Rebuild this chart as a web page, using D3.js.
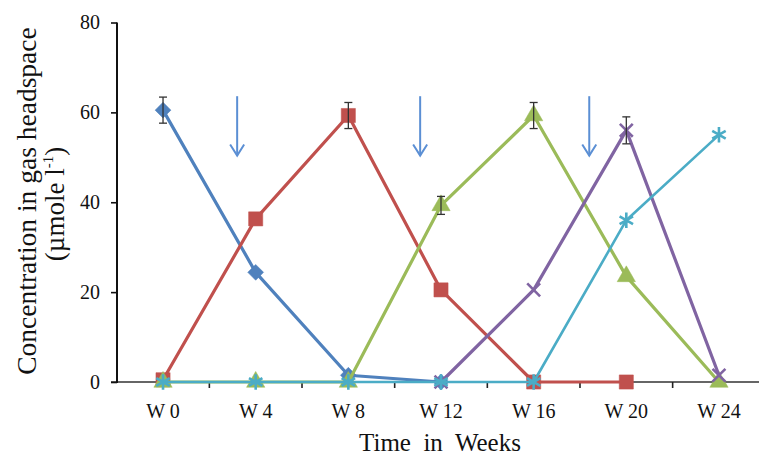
<!DOCTYPE html>
<html>
<head>
<meta charset="utf-8">
<script src="https://cdn.jsdelivr.net/npm/d3@7"></script>
<style>
  body { margin: 0; background: #fff; }
  svg { display: block; font-family: "Liberation Serif", "Times New Roman", serif; }
</style>
</head>
<body>
<div id="chart"></div>
<script>
const weeks = ["W 0", "W 4", "W 8", "W 12", "W 16", "W 20", "W 24"];
const blueVals   = [60.5, 24.4, 1.5, 0, null, null, null];
const redVals    = [0.5, 36.3, 59.3, 20.5, 0, 0, null];
const greenVals  = [0, 0, 0, 39.3, 59.3, 23.5, 0];
const purpleVals = [null, null, null, 0, 20.5, 56, 1.5];
const cyanVals   = [0, 0, 0, 0, 0, 36, 55];
const blueErr   = [2.9, 0, 0, 0, 0, 0, 0];
const redErr    = [0, 0, 2.9, 0, 0, 0, 0];
const greenErr  = [0, 0, 0, 2, 2.9, 0, 0];
const purpleErr = [0, 0, 0, 0, 0, 3, 0];
const yTicks = [0, 20, 40, 60, 80];
// weeks at which the arrows point down
const arrowWeeks = [3.2, 11.1, 18.4];

const width = 759, height = 457;
const margin = { left: 117, top: 22.5, bottom: 75 };

const svg = d3.select("#chart")
    .append("svg")
    .attr("width", width)
    .attr("height", height);

const xScale = d3.scaleBand().domain(weeks).range([116.7, 765.3]).padding(0);
const xWeek = d3.scaleLinear().domain([0, 24])
    .range([xScale("W 0") + xScale.bandwidth() / 2, xScale("W 24") + xScale.bandwidth() / 2]);
const yScale = d3.scaleLinear().domain([0, 80]).range([382, 22.5]);
const cx = w => xScale(w) + xScale.bandwidth() / 2;

// x axis
svg.append("line")
    .attr("x1", 111).attr("x2", width)
    .attr("y1", yScale(0)).attr("y2", yScale(0))
    .attr("stroke", "#333").attr("stroke-width", 1.6);

const bounds = weeks.slice(1).map(w => xScale(w));
svg.selectAll(".xtick")
    .data(bounds)
    .join("line")
    .attr("x1", d => d).attr("x2", d => d)
    .attr("y1", yScale(0)).attr("y2", yScale(0) + 6)
    .attr("stroke", "#222").attr("stroke-width", 1.6);

svg.selectAll(".xlab")
    .data(weeks)
    .join("text")
    .attr("x", d => cx(d))
    .attr("y", 418)
    .attr("text-anchor", "middle")
    .attr("font-size", 20)
    .attr("fill", "#111")
    .text(d => d);

// y axis
const leftAxis = d3.axisLeft(yScale).tickValues(yTicks).tickSize(6).tickSizeOuter(0).tickPadding(11);
const yAxisG = svg.append("g")
    .attr("transform", `translate(${margin.left},0)`)
    .call(leftAxis);
yAxisG.select(".domain").attr("stroke", "#111").attr("stroke-width", 2)
    .attr("d", `M0,${yScale(80)}V${yScale(0) + 1}`);
yAxisG.selectAll(".tick line").attr("stroke", "#111").attr("stroke-width", 1.6);
yAxisG.selectAll(".tick text")
    .attr("font-size", 20)
    .attr("font-family", "Liberation Serif, Times New Roman, serif")
    .attr("fill", "#111");

// axis titles
svg.append("text")
    .attr("transform", "translate(36,201) rotate(-90)")
    .attr("text-anchor", "middle")
    .attr("font-size", 27.5)
    .attr("fill", "#111")
    .text("Concentration in gas headspace");

const sub = svg.append("text")
    .attr("transform", "translate(64,204) rotate(-90)")
    .attr("text-anchor", "middle")
    .attr("font-size", 27)
    .attr("fill", "#111");
sub.append("tspan").text("(µmole l");
sub.append("tspan").attr("font-size", 15).attr("dy", -11).text("-1");
sub.append("tspan").attr("dy", 11).text(")");

svg.append("text")
    .attr("x", 440)
    .attr("y", 451)
    .attr("text-anchor", "middle")
    .attr("font-size", 25)
    .attr("fill", "#111")
    .attr("xml:space", "preserve")
    .style("white-space", "pre")
    .text("Time  in  Weeks");

// arrows
const arrowColor = "#5b8fd4";
arrowWeeks.forEach(w => {
    const x = xWeek(w);
    const y0 = yScale(63.6), y1 = yScale(50.4);
    svg.append("line")
        .attr("x1", x).attr("x2", x).attr("y1", y0).attr("y2", y1)
        .attr("stroke", arrowColor).attr("stroke-width", 2);
    svg.append("path")
        .attr("d", `M${x - 7},${y1 - 11}L${x},${y1}L${x + 7},${y1 - 11}`)
        .attr("fill", "none").attr("stroke", arrowColor).attr("stroke-width", 2);
});

// series
const series = [
    { name: "blue",   color: "#4F81BD", vals: blueVals,   err: blueErr,   symbol: "diamond" },
    { name: "red",    color: "#C0504D", vals: redVals,    err: redErr,    symbol: "square" },
    { name: "green",  color: "#9BBB59", vals: greenVals,  err: greenErr,  symbol: "triangle" },
    { name: "purple", color: "#8064A2", vals: purpleVals, err: purpleErr, symbol: "x" },
    { name: "cyan",   color: "#4BACC6", vals: cyanVals,   err: null,      symbol: "asterisk" }
];

const line = d3.line()
    .defined(d => d.v !== null)
    .x(d => cx(d.w))
    .y(d => yScale(d.v));

const symbols = {
    diamond:  { type: d3.symbolSquare,   size: 125, fill: true,  rotate: 45 },
    square:   { type: d3.symbolSquare,   size: 200, fill: true,  rotate: 0 },
    triangle: { type: d3.symbolTriangle, size: 145, fill: true,  rotate: 0 },
    x:        { type: d3.symbolX,        size: 110, fill: false, rotate: 0 },
    asterisk: { type: d3.symbolAsterisk, size: 170, fill: false, rotate: 0 }
};

series.forEach(s => {
    const pts = weeks.map((w, i) => ({ w: w, v: s.vals[i], e: s.err ? s.err[i] : 0 }));
    const g = svg.append("g");

    g.append("path")
        .datum(pts)
        .attr("d", line)
        .attr("fill", "none")
        .attr("stroke", s.color)
        .attr("stroke-width", s.name === "cyan" ? 2.6 : 3.2)
        .attr("stroke-linejoin", "round");

    const sym = symbols[s.symbol];
    const shape = d3.symbol().type(sym.type).size(sym.size);
    g.selectAll(".mark")
        .data(pts.filter(d => d.v !== null))
        .join("path")
        .attr("d", shape)
        .attr("transform", d => `translate(${cx(d.w)},${yScale(d.v)}) rotate(${sym.rotate})`)
        .attr("fill", sym.fill ? s.color : "none")
        .attr("stroke", s.color)
        .attr("stroke-width", sym.fill ? 0.5 : 2.6);

    // error bars
    const eb = g.selectAll(".err")
        .data(pts.filter(d => d.v !== null && d.e > 0))
        .join("g")
        .attr("stroke", "#333")
        .attr("stroke-width", 1.3);
    eb.append("line")
        .attr("x1", d => cx(d.w)).attr("x2", d => cx(d.w))
        .attr("y1", d => yScale(d.v + d.e)).attr("y2", d => yScale(d.v - d.e));
    eb.append("line")
        .attr("x1", d => cx(d.w) - 4).attr("x2", d => cx(d.w) + 4)
        .attr("y1", d => yScale(d.v + d.e)).attr("y2", d => yScale(d.v + d.e));
    eb.append("line")
        .attr("x1", d => cx(d.w) - 4).attr("x2", d => cx(d.w) + 4)
        .attr("y1", d => yScale(d.v - d.e)).attr("y2", d => yScale(d.v - d.e));
});
</script>
</body>
</html>
